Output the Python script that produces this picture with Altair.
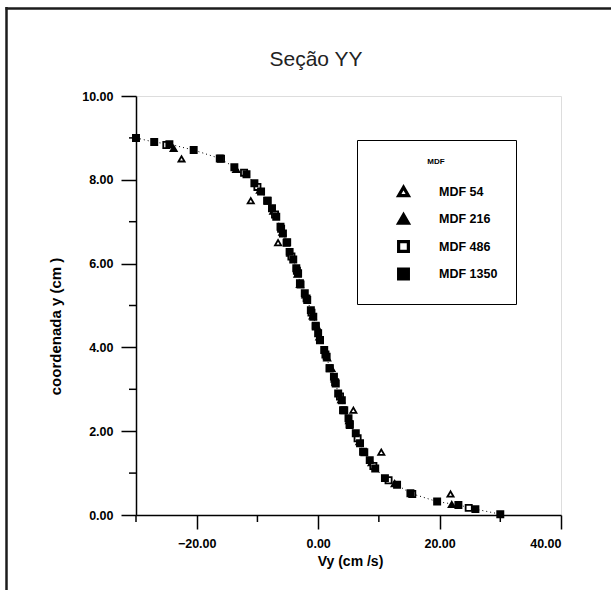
import altair as alt
import pandas as pd

# Velocity profile across section YY for four mesh refinements (MDF)
SERIES = ["MDF 54", "MDF 216", "MDF 486", "MDF 1350"]

y_54 = [8.5, 7.5, 6.5, 5.5, 4.5, 3.5, 2.5, 1.5, 0.5]
vy_54 = [-22.5, -11.1, -6.6, -3.0, -0.2, 2.2, 5.8, 10.4, 21.8]

y_216 = [8.75, 8.25, 7.75, 7.25, 6.75, 6.25, 5.75, 5.25, 4.75,
         4.25, 3.75, 3.25, 2.75, 2.25, 1.75, 1.25, 0.75, 0.25]
vy_216 = [-23.8, -13.5, -9.6, -7.4, -5.9, -4.6, -3.4, -2.1, -0.9,
          0.2, 1.5, 2.7, 3.8, 5.1, 6.8, 8.8, 12.6, 22.0]

y_486 = [8.83, 8.50, 8.17, 7.83, 7.50, 7.17, 6.83, 6.50, 6.17, 5.83, 5.50, 5.17, 4.83, 4.50,
         4.17, 3.83, 3.50, 3.17, 2.83, 2.50, 2.17, 1.83, 1.50, 1.17, 0.83, 0.50, 0.17]
vy_486 = [-25.0, -16.0, -12.2, -10.0, -8.4, -7.1, -6.1, -5.2, -4.4, -3.5, -2.9, -1.9, -1.1, -0.4,
          0.3, 1.2, 1.9, 2.8, 3.6, 4.3, 5.2, 6.5, 7.6, 9.1, 11.6, 15.5, 24.8]

y_1350 = [9.00, 8.90, 8.85, 8.71, 8.51, 8.30, 8.13, 7.92, 7.72, 7.50, 7.32, 7.12, 6.88, 6.72,
          6.51, 6.28, 6.10, 5.89, 5.77, 5.53, 5.29, 5.13, 4.89, 4.73, 4.52, 4.34, 4.18, 3.94,
          3.78, 3.50, 3.30, 3.14, 2.90, 2.74, 2.50, 2.31, 2.15, 1.95, 1.71, 1.51, 1.31, 1.11,
          0.88, 0.72, 0.52, 0.32, 0.24, 0.14, 0.02]
vy_1350 = [-30.0, -27.0, -24.5, -20.5, -16.2, -13.8, -11.8, -10.5, -9.4, -8.3, -7.6, -6.9, -6.2, -5.8,
           -5.1, -4.7, -4.1, -3.6, -3.3, -3.0, -2.2, -1.8, -1.2, -0.8, -0.4, 0.0, 0.3, 1.0,
           1.4, 1.9, 2.6, 2.9, 3.3, 3.9, 4.1, 5.0, 5.2, 6.2, 6.9, 7.4, 8.5, 9.4,
           11.0, 13.0, 15.2, 19.6, 23.1, 25.9, 30.0]

x_major = [-20, 0, 20, 40]
x_minor = [-30, -10, 10, 30]
y_major = [0, 2, 4, 6, 8, 10]
y_minor = [1, 3, 5, 7, 9]

rows = []
for name, ys, vs in [("MDF 54", y_54, vy_54), ("MDF 216", y_216, vy_216),
                     ("MDF 486", y_486, vy_486), ("MDF 1350", y_1350, vy_1350)]:
    for i, (yy, vv) in enumerate(zip(ys, vs)):
        rows.append({"serie": name, "vy": vv, "y": yy, "ordem": i})
df = pd.DataFrame(rows)

FONT = "Liberation Sans"
W, H = 425, 419

x_scale = alt.Scale(domain=[-30, 40], nice=False, zero=False)
y_scale = alt.Scale(domain=[0, 10], nice=False, zero=False)

axis_style = dict(
    format=".2f", grid=False, domainColor="black", domainWidth=1.5,
    tickColor="black", tickWidth=1.5, labelColor="black", labelFont=FONT,
    labelFontSize=12.5, labelFontWeight="bold", labelOverlap=False,
    titleFont=FONT, titleFontWeight="bold", titleColor="black",
)
x_axis = alt.Axis(values=x_major, tickSize=14, labelPadding=8, title="Vy (cm /s)",
                  titleFontSize=14, titleX=214, titleY=46, titleAlign="center",
                  titleBaseline="middle", **axis_style)
y_axis = alt.Axis(values=y_major, tickSize=15, labelPadding=8, title="coordenada y (cm )",
                  titleFontSize=15, titleX=-81, titleY=230, titleAngle=270,
                  titleAlign="center", titleBaseline="middle", **axis_style)

X = alt.X("vy:Q", scale=x_scale, axis=x_axis)
Y = alt.Y("y:Q", scale=y_scale, axis=y_axis)

dotted = alt.Chart(df).transform_filter(alt.datum.serie == "MDF 1350").mark_line(
    color="black", strokeWidth=1, strokeDash=[1, 3]
).encode(x=X, y=Y, order="ordem:Q")

legend = alt.Legend(
    orient="none", legendX=221, legendY=44, title="MDF", titleFont=FONT,
    titleFontSize=8, titleFontWeight="bold", titleColor="black", titleAnchor="middle",
    titlePadding=19, labelFont=FONT, labelFontSize=12.5, labelFontWeight="bold",
    labelColor="black", labelOffset=29, symbolSize=95, symbolStrokeWidth=3.2,
    symbolOffset=22, rowPadding=4.5, padding=18,
    strokeColor="black", fillColor="white",
)

points = alt.Chart(df).mark_point(strokeWidth=1.8, opacity=1, size=38).encode(
    x=X, y=Y,
    shape=alt.Shape("serie:N", scale=alt.Scale(domain=SERIES,
                    range=["triangle-up", "triangle-up", "square", "square"]), legend=legend),
    fill=alt.Fill("serie:N", scale=alt.Scale(domain=SERIES,
                  range=["white", "black", "white", "black"]), legend=legend),
    stroke=alt.Stroke("serie:N", scale=alt.Scale(domain=SERIES,
                      range=["black", "black", "black", "black"]), legend=legend),
)

minor_x = alt.Chart(pd.DataFrame({"v": x_minor})).mark_rule(color="black", strokeWidth=1.5).encode(
    x=alt.X("v:Q", scale=x_scale), y=alt.value(H), y2=alt.value(H + 7))
minor_y = alt.Chart(pd.DataFrame({"v": y_minor})).mark_rule(color="black", strokeWidth=1.5).encode(
    y=alt.Y("v:Q", scale=y_scale), x=alt.value(-7), x2=alt.value(0))

# page frame along the left and top edges
frame_left = alt.Chart(pd.DataFrame({"k": [0]})).mark_rule(color="#1c1c1c", strokeWidth=2.5).encode(
    x=alt.value(-129.5), y=alt.value(-89), y2=alt.value(494))
frame_top = alt.Chart(pd.DataFrame({"k": [0]})).mark_rule(color="#1c1c1c", strokeWidth=2.5).encode(
    y=alt.value(-87.5), x=alt.value(-130.5), x2=alt.value(475))

# chart heading
heading = alt.Chart(pd.DataFrame({"k": [0]})).mark_text(
    text="Seção YY", font=FONT, fontSize=21, color="#222222", align="center",
    baseline="alphabetic"
).encode(x=alt.value(180), y=alt.value(-30))

chart = alt.layer(frame_left, frame_top, heading, minor_x, minor_y, dotted, points).properties(
    width=W, height=H, autosize="none",
    padding={"left": 136, "top": 96, "right": 50, "bottom": 75},
).configure_view(strokeOpacity=0).configure(background="white")

chart.save("out.html", embed_options={"renderer": "svg", "actions": False})
